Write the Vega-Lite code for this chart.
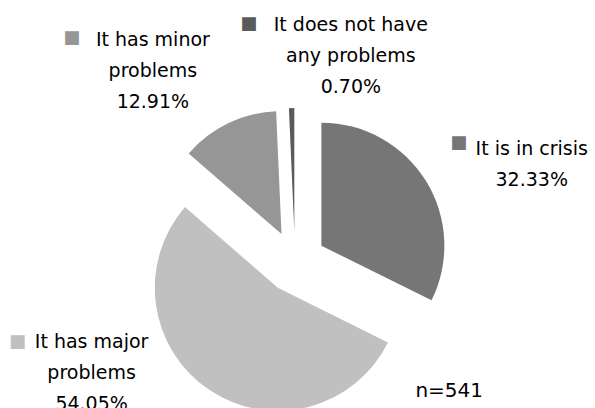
{
  "$schema": "https://vega.github.io/schema/vega-lite/v6.json",
  "width": 590,
  "height": 292,
  "autosize": "none",
  "padding": {"top": 116, "left": 0, "right": 5, "bottom": 0},
  "background": "white",
  "config": {"view": {"stroke": null}, "font": "DejaVu Sans"},
  "title": {"text": "n=541", "orient": "bottom", "anchor": "end", "offset": 0, "dy": -33, "dx": -107, "fontSize": 20, "fontWeight": "normal", "color": "#000000", "font": "DejaVu Sans"},
  "data": {"values": [
    {"cat": "It is in crisis", "name": "It is in crisis", "pct": 32.33},
    {"cat": "It has major problems", "name": "It has major\nproblems", "pct": 54.05},
    {"cat": "It has minor problems", "name": "It has minor\nproblems", "pct": 12.91},
    {"cat": "It does not have any problems", "name": "It does not have\nany problems", "pct": 0.70}
  ]},
  "transform": [
    {"window": [{"op": "row_number", "as": "ord"}]},
    {"joinaggregate": [{"op": "sum", "field": "pct", "as": "total"}]},
    {"calculate": "datum.name + '\\n' + format(datum.pct, '.2f') + '%'", "as": "label"}
  ],
  "encoding": {
    "theta": {"field": "pct", "type": "quantitative", "stack": true},
    "order": {"field": "ord", "type": "quantitative"}
  },
  "layer": [
    {
      "mark": {
        "type": "arc",
        "outerRadius": 123,
        "xOffset": {"expr": "31*sin(PI*(datum.pct_start+datum.pct_end)/datum.total)"},
        "yOffset": {"expr": "-31*cos(PI*(datum.pct_start+datum.pct_end)/datum.total)"}
      },
      "encoding": {
        "color": {
          "field": "cat", "type": "nominal", "legend": null,
          "scale": {
            "domain": ["It is in crisis", "It has major problems", "It has minor problems", "It does not have any problems"],
            "range": ["#767676", "#c0c0c0", "#969696", "#5a5a5a"]
          }
        }
      }
    },
    {
      "mark": {
        "type": "text",
        "radius": 235,
        "align": "center",
        "baseline": "middle",
        "fontSize": 19,
        "lineHeight": 31,
        "lineBreak": "\n",
        "color": "#000000",
        "dx": {"expr": "datum.cat === 'It is in crisis' ? 37 : datum.cat === 'It has major problems' ? -73 : datum.cat === 'It has minor problems' ? -40 : 61"},
        "dy": {"expr": "datum.cat === 'It is in crisis' ? 11 : datum.cat === 'It has major problems' ? -116 : datum.cat === 'It has minor problems' ? -10 : -2"}
      },
      "encoding": {
        "detail": {"field": "cat", "type": "nominal"},
        "text": {"field": "label", "type": "nominal"}
      }
    },
    {
      "mark": {
        "type": "text",
        "radius": 235,
        "align": "center",
        "baseline": "middle",
        "fontSize": 18,
        "text": "■",
        "dx": {"expr": "datum.cat === 'It is in crisis' ? -36 : datum.cat === 'It has major problems' ? -147 : datum.cat === 'It has minor problems' ? -121 : -41"},
        "dy": {"expr": "datum.cat === 'It is in crisis' ? 5 : datum.cat === 'It has major problems' ? -116 : datum.cat === 'It has minor problems' ? -12 : -3"}
      },
      "encoding": {
        "color": {"field": "cat", "type": "nominal", "legend": null}
      }
    }
  ]
}
